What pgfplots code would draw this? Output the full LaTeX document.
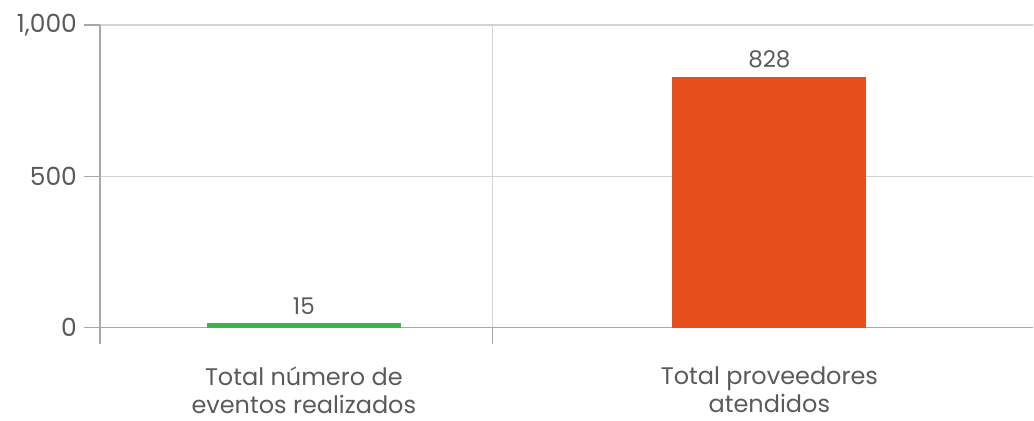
\documentclass[border=0pt]{standalone}
\usepackage{fontspec}
\setmainfont{Poppins}
\usepackage{pgfplots}
\pgfplotsset{compat=1.18}
\definecolor{barGreen}{HTML}{3BB54A}
\definecolor{barOrange}{HTML}{E64E1C}
\definecolor{txtGray}{HTML}{5A5A5A}
\definecolor{gridGray}{HTML}{D2D2D2}
\definecolor{axGray}{HTML}{A8A8A8}
\begin{document}
\begin{tikzpicture}
\begin{axis}[
  name=ax,
  scale only axis,
  width=467pt, height=151.5pt,
  xmin=-0.438, xmax=1.567,
  ymin=0, ymax=1000,
  axis x line*=bottom, axis y line*=left,
  axis line style={axGray, line width=0.7pt},
  % separators between categories: grid lines with outward ticks
  xtick={-0.438,0.405},
  xticklabels={,},
  xmajorgrids,
  % category names centred under the bars
  extra x ticks={0,1},
  extra x tick labels={{Total número de\\eventos realizados},{Total proveedores\\atendidos}},
  extra x tick style={grid=none, major tick length=0pt},
  xticklabel style={align=center, font=\fontsize{12}{14}\selectfont, text=txtGray,
    anchor=north, yshift=-16pt},
  ytick={0,500,1000},
  ymajorgrids,
  grid style={gridGray, line width=0.6pt},
  tick align=outside,
  major tick length=8pt,
  tick style={axGray, line width=0.7pt},
  yticklabel style={font=\fontsize{12.5}{14}\selectfont, text=txtGray},
  /pgf/number format/assume math mode=true,
  /pgf/number format/1000 sep={,},
  ybar, bar width=97pt,
  bar shift=0pt,
  nodes near coords,
  nodes near coords style={font=\fontsize{11.5}{13.5}\selectfont, text=txtGray, yshift=1pt},
]
\addplot[fill=barGreen, draw=none] coordinates {(0,15)};
\addplot[fill=barOrange, draw=none] coordinates {(1,828)};
\end{axis}
\path ([xshift=-50pt,yshift=-46.5pt]ax.south west) rectangle ([yshift=12.5pt]ax.north east);
\end{tikzpicture}
\end{document}
